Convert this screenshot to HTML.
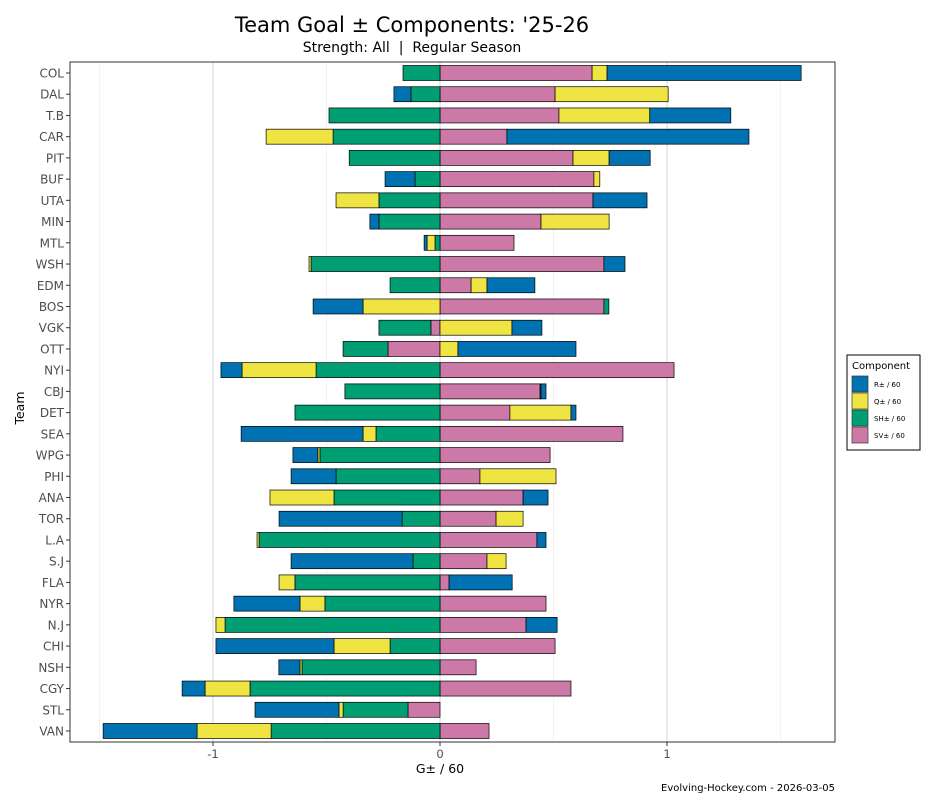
<!DOCTYPE html>
<html><head><meta charset="utf-8"><style>
body{margin:0;background:#fff;}
svg{display:block;font-family:"DejaVu Sans","Liberation Sans",sans-serif;}
</style></head><body>
<svg id="chart" width="950" height="800" viewBox="0 0 950 800" xmlns="http://www.w3.org/2000/svg">
<rect width="950" height="800" fill="#fff"/>
<text x="412" y="32" font-size="21" text-anchor="middle" fill="#000">Team Goal ± Components: '25-26</text>
<text x="412" y="52" font-size="14" text-anchor="middle" fill="#000" style="white-space:pre">Strength: All  |  Regular Season</text>
<g id="grid"></g>
<g id="bars"></g>
<rect x="70" y="62" width="765" height="680" fill="none" stroke="#333" stroke-width="1"/>
<g id="axes"></g>
<text x="440" y="773" font-size="12.5" text-anchor="middle" fill="#000">G± / 60</text>
<text transform="translate(24,408) rotate(-90)" font-size="12.5" text-anchor="middle" fill="#000">Team</text>
<text x="835" y="791" font-size="10" text-anchor="end" fill="#000">Evolving-Hockey.com - 2026-03-05</text>
<g>
<rect x="847" y="355" width="73" height="95" fill="#fff" stroke="#000" stroke-width="1"/>
<text x="852" y="369" font-size="10" fill="#000">Component</text>
<g id="legend-items"></g>
</g>
</svg>
<script>
const teams=["COL","DAL","T.B","CAR","PIT","BUF","UTA","MIN","MTL","WSH","EDM","BOS","VGK","OTT","NYI","CBJ","DET","SEA","WPG","PHI","ANA","TOR","L.A","S.J","FLA","NYR","N.J","CHI","NSH","CGY","STL","VAN"];
const svVals=[0.67,0.507,0.524,0.295,0.586,0.678,0.674,0.445,0.326,0.722,0.137,0.722,-0.04,-0.229,1.031,0.441,0.308,0.806,0.485,0.176,0.366,0.247,0.427,0.207,0.04,0.467,0.379,0.507,0.159,0.577,-0.141,0.216];
const shVals=[-0.163,-0.128,-0.489,-0.471,-0.40,-0.11,-0.269,-0.269,-0.022,-0.568,-0.22,0.022,-0.229,-0.198,-0.546,-0.419,-0.639,-0.282,-0.529,-0.458,-0.467,-0.167,-0.797,-0.119,-0.639,-0.507,-0.947,-0.22,-0.608,-0.837,-0.286,-0.744];
const qVals=[0.066,0.498,0.40,-0.295,0.159,0.026,-0.189,0.30,-0.035,-0.009,0.07,-0.339,0.317,0.079,-0.326,0.004,0.269,-0.057,-0.009,0.335,-0.282,0.119,-0.009,0.084,-0.07,-0.11,-0.04,-0.247,-0.009,-0.198,-0.018,-0.326];
const rVals=[0.855,-0.075,0.357,1.066,0.181,-0.132,0.238,-0.04,-0.013,0.093,0.211,-0.22,0.132,0.52,-0.093,0.022,0.022,-0.537,-0.11,-0.198,0.11,-0.542,0.04,-0.537,0.278,-0.291,0.137,-0.52,-0.093,-0.101,-0.37,-0.414];
const xTicks=[-1,0,1];
const xMinor=[-1.5,-0.5,0.5,1.5];
const compNames=["R± / 60","Q± / 60","SH± / 60","SV± / 60"];
const compColors=["#0072B2","#F0E442","#009E73","#CC79A7"];

const NS="http://www.w3.org/2000/svg";
const x=v=>440+v*227;
const y=i=>73+i*(731-73)/(teams.length-1);
function mk(tag,attrs,parent){const e=document.createElementNS(NS,tag);for(const k in attrs)e.setAttribute(k,attrs[k]);parent.appendChild(e);return e;}
const grid=document.getElementById('grid'),bars=document.getElementById('bars'),axes=document.getElementById('axes');
xMinor.forEach(v=>{const l=mk('line',{x1:x(v),x2:x(v),y1:62,y2:742,stroke:'#ebebeb','stroke-width':0.6},grid);

});
xTicks.forEach(v=>{const l=mk('line',{x1:x(v),x2:x(v),y1:62,y2:742,stroke:'#d4d4d4','stroke-width':1},grid);


const t=mk('line',{x1:x(v),x2:x(v),y1:742,y2:746,stroke:'#333'},axes);


const lb=mk('text',{x:x(v),y:758,'font-size':11.5,'text-anchor':'middle',fill:'#4d4d4d'},axes);
lb.textContent=String(v);

});
const series=[svVals,shVals,qVals,rVals];
const sColors=["#CC79A7","#009E73","#F0E442","#0072B2"];
const sNames=["sv","sh","q","r"];
teams.forEach((tm,i)=>{
 let pos=0,neg=0;const cy=y(i);
 series.forEach((arr,s)=>{const v=arr[i];let a,b;
  if(v>=0){a=pos;b=pos+v;pos=b;}else{a=neg;b=neg+v;neg=b;}
  const r=mk('rect',{x:Math.min(x(a),x(b)),y:cy-7.5,width:Math.abs(x(b)-x(a)),height:15,fill:sColors[s],stroke:'#000','stroke-width':0.7},bars);
  
  });
 const t=mk('line',{x1:66,x2:70,y1:cy,y2:cy,stroke:'#333'},axes);
 
 
 const lb=mk('text',{x:64,y:cy+4.5,'font-size':12,'text-anchor':'end',fill:'#4d4d4d'},axes);
 lb.textContent=tm;
 
 
});
const li=document.getElementById('legend-items');
compNames.forEach((n,k)=>{const yy=376+k*17;
 const r=mk('rect',{x:852,y:yy,width:16,height:16,fill:compColors[k],stroke:'#333','stroke-width':0.7},li);
 
 
 const t=mk('text',{x:874,y:yy+11,'font-size':7,fill:'#000'},li);
 t.textContent=n;
 
 });
</script>
</body></html>
